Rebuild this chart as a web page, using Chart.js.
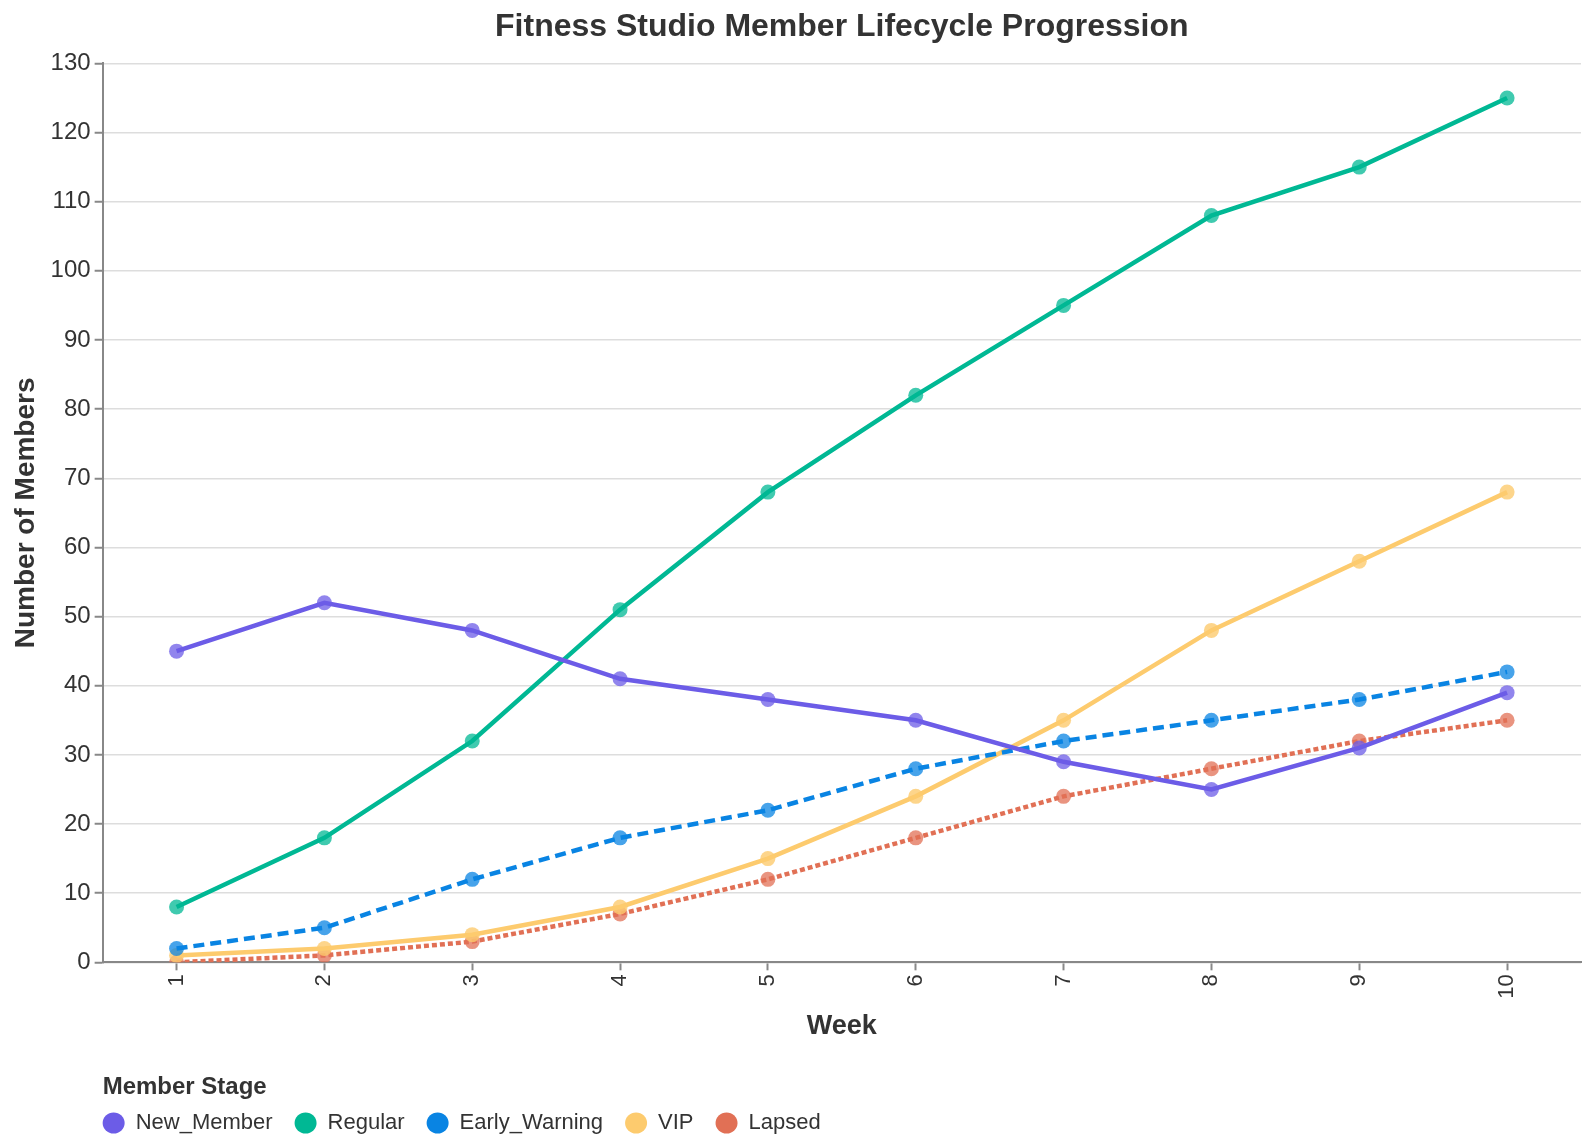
<!DOCTYPE html>
<html>
<head>
<meta charset="utf-8">
<script src="https://cdn.jsdelivr.net/npm/chart.js@4.4.1/dist/chart.umd.min.js"></script>
<style>
	html, body { margin: 0; padding: 0; background: #fff; }
	#wrap { width: 1592px; height: 1146px; }
</style>
</head>
<body>
<div id="wrap"><canvas id="lifecycleChart" width="1592" height="1146"></canvas></div>
<script>
// Chart data
const weeks = ["1", "2", "3", "4", "5", "6", "7", "8", "9", "10"];
const newMember = [45, 52, 48, 41, 38, 35, 29, 25, 31, 39];
const regular = [8, 18, 32, 51, 68, 82, 95, 108, 115, 125];
const earlyWarning = [2, 5, 12, 18, 22, 28, 32, 35, 38, 42];
const vip = [1, 2, 4, 8, 15, 24, 35, 48, 58, 68];
const lapsed = [0, 1, 3, 7, 12, 18, 24, 28, 32, 35];
const yTicks = [0, 10, 20, 30, 40, 50, 60, 70, 80, 90, 100, 110, 120, 130];

const fontFamily = "'Liberation Sans', Arial, sans-serif";
const legendPadding = 22;

// Build one line dataset
function makeSeries(label, data, color, pointColor, dash) {
	return {
		label: label,
		data: data,
		borderColor: color,
		backgroundColor: color,
		borderWidth: 4.5,
		borderDash: dash,
		pointRadius: 7.5,
		pointHoverRadius: 7.5,
		pointBackgroundColor: pointColor,
		pointBorderWidth: 0,
		tension: 0
	};
}

// Legend items start flush with the plot's left edge
const legendShift = {
	id: "legendShift",
	afterLayout: function (chart) {
		if (chart.legend) {
			chart.legend.left -= legendPadding;
			chart.legend.right -= legendPadding;
		}
	}
};

document.addEventListener("DOMContentLoaded", function () {
	const ctx = document.getElementById("lifecycleChart").getContext("2d");

	new Chart(ctx, {
		type: "line",
		data: {
			labels: weeks,
			datasets: [
				makeSeries("New_Member", newMember, "#6c5ce7", "rgba(108, 92, 231, 0.75)", []),
				makeSeries("Regular", regular, "#00b894", "rgba(0, 184, 148, 0.75)", []),
				makeSeries("Early_Warning", earlyWarning, "#0984e3", "rgba(9, 132, 227, 0.75)", [11, 6]),
				makeSeries("VIP", vip, "#fdcb6e", "rgba(253, 203, 110, 0.8)", []),
				makeSeries("Lapsed", lapsed, "#e17055", "rgba(225, 112, 85, 0.75)", [5, 3])
			]
		},
		plugins: [legendShift],
		options: {
			responsive: false,
			animation: false,
			layout: {
				padding: { left: 9, right: 11, top: 0, bottom: 2 }
			},
			plugins: {
				title: {
					display: true,
					text: "Fitness Studio Member Lifecycle Progression",
					fullSize: false,
					color: "#333",
					font: { family: fontFamily, size: 32, weight: "bold" },
					padding: { top: 8, bottom: 17 }
				},
				// legend heading, placed between the x axis and the legend
				subtitle: {
					display: true,
					text: "Member Stage",
					position: "bottom",
					align: "start",
					fullSize: false,
					weight: 900,
					color: "#333",
					font: { family: fontFamily, size: 24, weight: "bold" },
					padding: { top: 30, bottom: -12 }
				},
				legend: {
					display: true,
					position: "bottom",
					align: "start",
					fullSize: false,
					labels: {
						usePointStyle: true,
						pointStyle: "circle",
						pointStyleWidth: 22,
						boxHeight: 15,
						padding: legendPadding,
						color: "#333",
						font: { family: fontFamily, size: 22 },
						// legend symbols use the solid line colour
						generateLabels: function (chart) {
							const items = Chart.defaults.plugins.legend.labels.generateLabels(chart);
							items.forEach(function (item) {
								const ds = chart.data.datasets[item.datasetIndex];
								item.fillStyle = ds.borderColor;
								item.strokeStyle = ds.borderColor;
								item.lineWidth = 0;
								item.lineDash = [];
							});
							return items;
						}
					}
				},
				tooltip: { enabled: false }
			},
			scales: {
				x: {
					offset: true,
					grid: {
						display: true,
						drawOnChartArea: false,
						drawTicks: true,
						tickLength: 8,
						tickColor: "#888",
						tickWidth: 2
					},
					border: { display: true, color: "#888", width: 2 },
					ticks: {
						maxRotation: 90,
						minRotation: 90,
						padding: 4,
						color: "#333",
						font: { family: fontFamily, size: 22 }
					},
					title: {
						display: true,
						text: "Week",
						color: "#333",
						font: { family: fontFamily, size: 27, weight: "bold" },
						padding: { top: 8, bottom: 0 }
					}
				},
				y: {
					min: 0,
					max: 130,
					afterBuildTicks: function (axis) {
						axis.ticks = yTicks.map(v => ({ value: v }));
					},
					grid: {
						color: "#ddd",
						lineWidth: 1.5,
						drawTicks: true,
						tickLength: 8,
						tickColor: "#888",
						tickWidth: 2
					},
					border: { display: true, color: "#888", width: 2 },
					ticks: {
						padding: 4,
						color: "#333",
						font: { family: fontFamily, size: 24 }
					},
					title: {
						display: true,
						text: "Number of Members",
						color: "#333",
						font: { family: fontFamily, size: 28, weight: "bold" },
						padding: { top: 0, bottom: 4 }
					}
				}
			}
		}
	});
});
</script>
</body>
</html>
